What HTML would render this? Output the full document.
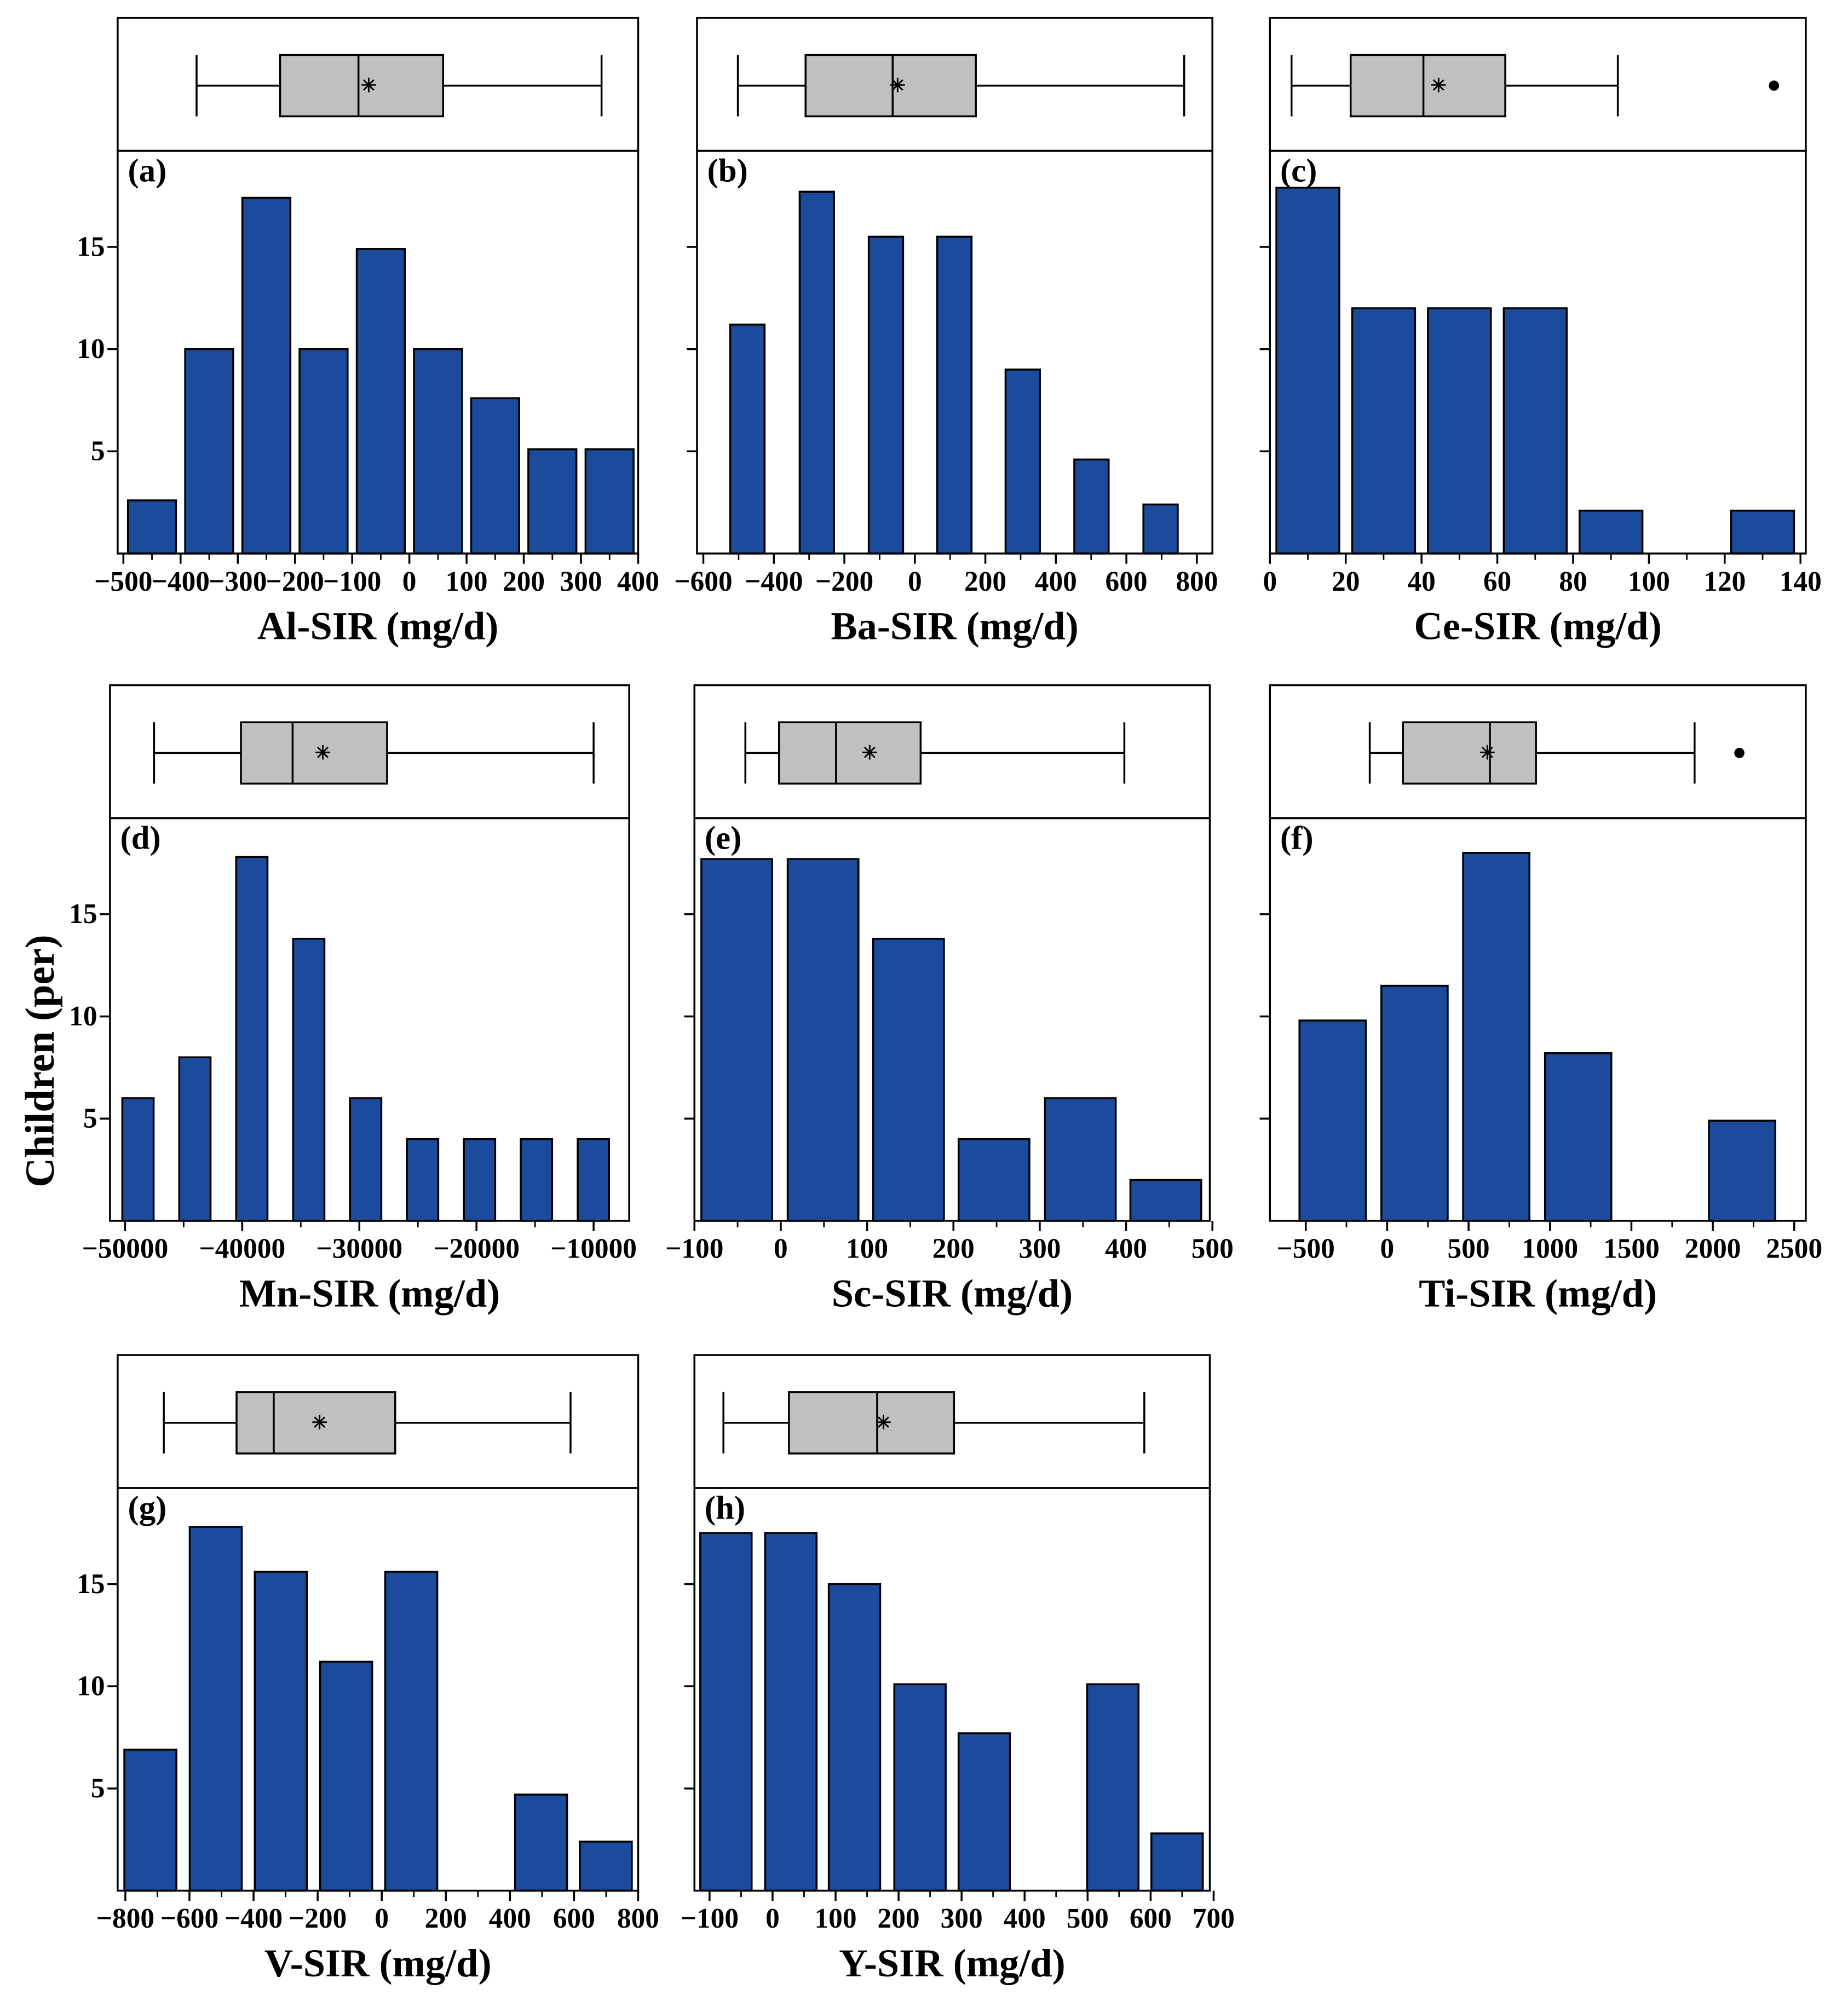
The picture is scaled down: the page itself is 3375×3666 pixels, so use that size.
<!DOCTYPE html>
<html><head><meta charset="utf-8"><style>
html,body{margin:0;padding:0;background:#fff}
svg{display:block}
text{font-family:"Liberation Serif",serif;font-weight:bold;fill:#000}
</style></head><body>
<svg id="fig" width="3375" height="3666" viewBox="0 0 1445 1570" preserveAspectRatio="none" xmlns="http://www.w3.org/2000/svg">
<text x="0" y="0" font-size="32" text-anchor="middle" transform="translate(42,830) rotate(-90)">Children (per)</text>
</svg>
<script>
// ---- data ----
const aCenters=[-450,-350,-250,-150,-50,50,150,250,350];
const aCounts=[2.6,10,17.4,10,14.9,10,7.6,5.1,5.1];
const aTicks=[-500,-400,-300,-200,-100,0,100,200,300,400];
const aBox=[-372,-226,-89,59,336,-71];
const aOut=[];
const bCenters=[-475,-278,-82,112,306,501,697];
const bCounts=[11.2,17.7,15.5,15.5,9,4.6,2.4];
const bTicks=[-600,-400,-200,0,200,400,600,800];
const bBox=[-502,-310,-63,173,764,-49];
const bOut=[];
const cCenters=[10,30,50,70,90,110,130];
const cCounts=[17.9,12,12,12,2.1,0,2.1];
const cTicks=[0,20,40,60,80,100,120,140];
const cBox=[5.7,21.3,40.5,62.1,91.8,44.5];
const cOut=[133];
const dCenters=[-48900,-44040,-39180,-34320,-29460,-24600,-19740,-14880,-10020];
const dCounts=[6,8,17.8,13.8,6,4,4,4,4];
const dTicks=[-50000,-40000,-30000,-20000,-10000];
const dBox=[-47527,-40108,-35699,-27634,-10000,-33118];
const dOut=[];
const eCenters=[-51,49,148,247,347,446];
const eCounts=[17.7,17.7,13.8,4,6,2];
const eTicks=[-100,0,100,200,300,400,500];
const eBox=[-41,-2,64,162,398,103];
const eOut=[];
const fCenters=[-335,168,670,1173,1676,2180];
const fCounts=[9.8,11.5,18,8.2,0,4.9];
const fTicks=[-500,0,500,1000,1500,2000,2500];
const fBox=[-107,97,631,914,1888,615];
const fOut=[2163];
const gCenters=[-722,-518,-315,-111,92,295,497,699];
const gCounts=[6.9,17.8,15.6,11.2,15.6,0,4.7,2.4];
const gTicks=[-800,-600,-400,-200,0,200,400,600,800];
const gBox=[-680,-453,-337,42,589,-194];
const gOut=[];
const hCenters=[-74,29,130,234,336,438,540,642];
const hCounts=[17.5,17.5,15,10.1,7.7,0,10.1,2.8];
const hTicks=[-100,0,100,200,300,400,500,600,700];
const hBox=[-78,26,166,288,590,176];
const hOut=[];
const yTicks=[5,10,15];

// ---- layout (pixels) ----
const NS="http://www.w3.org/2000/svg";
const svg=document.getElementById('fig');
function mk(tag,attrs,parent){const e=document.createElementNS(NS,tag);for(const k in attrs)e.setAttribute(k,attrs[k]);(parent||svg).appendChild(e);return e;}
const panels=[
 {id:'a',t:'Al-SIR (mg/d)',c:aCenters,n:aCounts,tk:aTicks,bx:aBox,o:aOut,x0:92,x1:499,y0:14,vmin:-510,vmax:400,bw:0.84,bin:100,yl:true},
 {id:'b',t:'Ba-SIR (mg/d)',c:bCenters,n:bCounts,tk:bTicks,bx:bBox,o:bOut,x0:545,x1:948,y0:14,vmin:-618,vmax:844,bw:0.5,bin:195,yl:false},
 {id:'c',t:'Ce-SIR (mg/d)',c:cCenters,n:cCounts,tk:cTicks,bx:cBox,o:cOut,x0:993,x1:1412,y0:14,vmin:0,vmax:141.4,bw:0.83,bin:20,yl:false},
 {id:'d',t:'Mn-SIR (mg/d)',c:dCenters,n:dCounts,tk:dTicks,bx:dBox,o:dOut,x0:86,x1:492,y0:536,vmin:-51290,vmax:-6960,bw:0.55,bin:4860,yl:true},
 {id:'e',t:'Sc-SIR (mg/d)',c:eCenters,n:eCounts,tk:eTicks,bx:eBox,o:eOut,x0:543,x1:946,y0:536,vmin:-100,vmax:497,bw:0.82,bin:100,yl:false},
 {id:'f',t:'Ti-SIR (mg/d)',c:fCenters,n:fCounts,tk:fTicks,bx:fBox,o:fOut,x0:993,x1:1412,y0:536,vmin:-720,vmax:2571,bw:0.81,bin:503,yl:false},
 {id:'g',t:'V-SIR (mg/d)',c:gCenters,n:gCounts,tk:gTicks,bx:gBox,o:gOut,x0:92,x1:499,y0:1060,vmin:-824,vmax:800,bw:0.8,bin:203,yl:true},
 {id:'h',t:'Y-SIR (mg/d)',c:hCenters,n:hCounts,tk:hTicks,bx:hBox,o:hOut,x0:543,x1:946,y0:1060,vmin:-124,vmax:694,bw:0.8,bin:102,yl:false}
];
const YMAX=19.7;
panels.forEach(p=>{
 const g=mk('g',{});
 
 
 const bt=p.y0, bb=p.y0+104, hb=bb+315;
 const sx=v=>p.x0+(v-p.vmin)/(p.vmax-p.vmin)*(p.x1-p.x0);
 const sy=v=>hb-v/YMAX*(hb-bb);
 const bf=mk('rect',{x:p.x0,y:bt,width:p.x1-p.x0,height:bb-bt,fill:'none',stroke:'#000','stroke-width':1.5},g);
 
 
 const cy=(bt+bb)/2+1, hh=24;
 const [wl,q1,md,q3,wh,mn]=p.bx;
 const wlL=mk('line',{x1:sx(wl),x2:sx(q1),y1:cy,y2:cy,stroke:'#000','stroke-width':1.5},g);
 
 
 const whL=mk('line',{x1:sx(q3),x2:sx(wh),y1:cy,y2:cy,stroke:'#000','stroke-width':1.5},g);
 
 
 [wl,wh].forEach(v=>{const c=mk('line',{x1:sx(v),x2:sx(v),y1:cy-hh,y2:cy+hh,stroke:'#000','stroke-width':1.5},g);
  
  });
 const br=mk('rect',{x:sx(q1),y:cy-hh,width:sx(q3)-sx(q1),height:2*hh,fill:'#c0c0c0',stroke:'#000','stroke-width':1.5},g);
 
 
 const ml=mk('line',{x1:sx(md),x2:sx(md),y1:cy-hh,y2:cy+hh,stroke:'#000','stroke-width':1.5},g);
 
 
 const mt=mk('text',{x:sx(mn),y:cy+5,'font-size':15,'font-weight':'normal','text-anchor':'middle'},g);
 mt.textContent='\u2733';
 
 
 p.o.forEach(v=>{const c=mk('circle',{cx:sx(v),cy:cy,r:4,fill:'#000'},g);
  
  });
 p.c.forEach((v,i)=>{
  if(p.n[i]<=0)return;
  const w=p.bin*p.bw;
  const r=mk('rect',{x:sx(v-w/2),y:sy(p.n[i]),width:sx(v+w/2)-sx(v-w/2),height:hb-sy(p.n[i]),fill:'#1c4a9c',stroke:'#000','stroke-width':1.5},g);
  
  
 });
 const hf=mk('rect',{x:p.x0,y:bb,width:p.x1-p.x0,height:hb-bb,fill:'none',stroke:'#000','stroke-width':1.5},g);
 
 
 const step=p.tk[1]-p.tk[0];
 p.tk.forEach((v,i)=>{
  mk('line',{x1:sx(v),x2:sx(v),y1:hb,y2:hb+8,stroke:'#000','stroke-width':1.5},g);
  const m=v+step/2;
  if(m<=p.vmax) mk('line',{x1:sx(m),x2:sx(m),y1:hb,y2:hb+5,stroke:'#000','stroke-width':1.2},g);
  const t=mk('text',{x:sx(v),y:hb+29,'font-size':22,'text-anchor':'middle'},g);
  t.textContent=(v<0?'\u2212'+(-v):String(v));
  
  
 });
 yTicks.forEach(v=>{
  mk('line',{x1:p.x0-8,x2:p.x0,y1:sy(v),y2:sy(v),stroke:'#000','stroke-width':1.5},g);
  if(p.yl){const t=mk('text',{x:p.x0-10,y:sy(v)+7,'font-size':22,'text-anchor':'end'},g);
   t.textContent=v;
   
   }
 });
 const lab=mk('text',{x:p.x0+8,y:bb+24,'font-size':26},g);
 lab.textContent='('+p.id+')';
 
 
 const at=mk('text',{x:(p.x0+p.x1)/2,y:hb+67,'font-size':31,'text-anchor':'middle'},g);
 at.textContent=p.t;
 
 
});
</script>
</body></html>
